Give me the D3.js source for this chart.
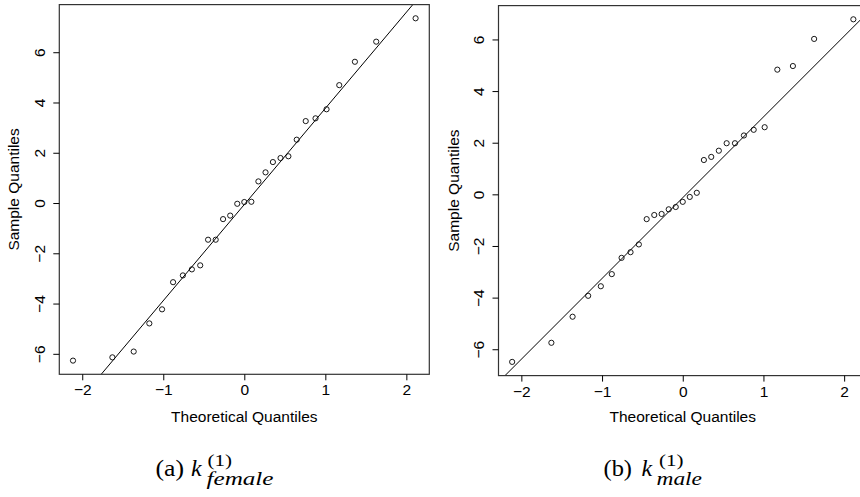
<!DOCTYPE html>
<html>
<head>
<meta charset="utf-8">
<script src="https://cdn.jsdelivr.net/npm/d3@7/dist/d3.min.js"></script>
<style>
  html, body { margin: 0; padding: 0; background: #fff; }
  svg { display: block; }
  .sans { font-family: "Liberation Sans", Arial, sans-serif; }
  .serif { font-family: "Liberation Serif", "Times New Roman", serif; }
</style>
</head>
<body>
<svg id="chart" width="860" height="497"></svg>
<script>
// Theoretical normal quantiles (x positions)
const theoretical = [-2.114, -1.628, -1.365, -1.172, -1.015, -0.879, -0.758, -0.647, -0.544, -0.447,
  -0.353, -0.262, -0.174, -0.087, 0, 0.087, 0.174, 0.262, 0.353, 0.447,
  0.544, 0.647, 0.758, 0.879, 1.015, 1.172, 1.365, 1.628, 2.114];
// Sample quantiles, panel (a) female
const femaleSample = [-6.27, -6.14, -5.91, -4.79, -4.23, -3.15, -2.88, -2.64, -2.48, -1.46,
  -1.46, -0.64, -0.50, -0.03, 0.04, 0.05, 0.86, 1.22, 1.63, 1.79,
  1.86, 2.52, 3.26, 3.37, 3.73, 4.69, 5.62, 6.42, 7.35];
// Sample quantiles, panel (b) male
const maleSample = [-6.49, -5.75, -4.74, -3.93, -3.56, -3.09, -2.46, -2.24, -1.94, -0.96,
  -0.80, -0.76, -0.58, -0.49, -0.29, -0.10, 0.06, 1.33, 1.45, 1.69,
  1.98, 1.98, 2.28, 2.50, 2.60, 4.83, 4.97, 6.02, 6.78];
const xTicks = [-2, -1, 0, 1, 2];
const yTicks = [-6, -4, -2, 0, 2, 4, 6];
const xTitle = "Theoretical Quantiles";
const yTitle = "Sample Quantiles";
const captionLabels = ["(a)", "(b)"];
const captionSubs = ["female", "male"];

const svg = d3.select("#chart");

function extend(ext) { const r = (ext[1] - ext[0]) * 0.04; return [ext[0] - r, ext[1] + r]; }

const panels = [
  { sample: femaleSample, box: { x0: 59.3, x1: 429.3, y0: 4.6, y1: 374.3 },
    cap: { lx: 155.5, lw: 28.5, kx: 191, sx: 207.5, sw: 24.5, bx: 206.5, bw: 67 },
    label: captionLabels[0], sub: captionSubs[0] },
  { sample: maleSample,   box: { x0: 498.5, x1: 867, y0: 5.6, y1: 375.6 },
    cap: { lx: 603.5, lw: 28.5, kx: 641.5, sx: 659, sw: 24.5, bx: 656.5, bw: 45.5 },
    label: captionLabels[1], sub: captionSubs[1] }
];

const fmt = d => (d < 0 ? "\u2212" + Math.abs(d) : String(d));

panels.forEach((p, i) => {
  const b = p.box;
  const x = d3.scaleLinear().domain(extend(d3.extent(theoretical))).range([b.x0, b.x1]);
  const y = d3.scaleLinear().domain(extend(d3.extent(p.sample))).range([b.y1, b.y0]);
  const g = svg.append("g");

  const clipId = "clip" + i;
  svg.append("clipPath").attr("id", clipId).append("rect")
    .attr("x", b.x0).attr("y", b.y0).attr("width", b.x1 - b.x0).attr("height", b.y1 - b.y0);

  // qq line through quartiles
  const sorted = p.sample.slice().sort(d3.ascending);
  const q1 = d3.quantile(sorted, 0.25), q3 = d3.quantile(sorted, 0.75);
  const z1 = -0.6744898, z3 = 0.6744898;
  const slope = (q3 - q1) / (z3 - z1);
  const inter = q1 - slope * z1;
  const xd = x.domain();
  g.append("line")
    .attr("clip-path", "url(#" + clipId + ")")
    .attr("x1", x(xd[0])).attr("y1", y(inter + slope * xd[0]))
    .attr("x2", x(xd[1])).attr("y2", y(inter + slope * xd[1]))
    .attr("stroke", "#000").attr("stroke-width", 1);

  // points
  g.selectAll("circle").data(theoretical.map((t, k) => [t, p.sample[k]])).join("circle")
    .attr("cx", d => x(d[0])).attr("cy", d => y(d[1])).attr("r", 2.6)
    .attr("fill", "none").attr("stroke", "#000").attr("stroke-width", 0.9);

  // box
  g.append("rect").attr("x", b.x0).attr("y", b.y0)
    .attr("width", b.x1 - b.x0).attr("height", b.y1 - b.y0)
    .attr("fill", "none").attr("stroke", "#333").attr("stroke-width", 1.2);

  // x axis
  const xa = g.append("g").attr("transform", `translate(0,${b.y1})`)
    .call(d3.axisBottom(x).tickValues(xTicks).tickSize(6).tickPadding(4).tickFormat(fmt));
  xa.select(".domain").remove();
  xa.selectAll("line").attr("stroke", "#000");
  xa.selectAll("text").attr("class", "sans").attr("font-size", 15.5).attr("fill", "#000");

  // y axis
  const ya = g.append("g").attr("transform", `translate(${b.x0},0)`)
    .call(d3.axisLeft(y).tickValues(yTicks).tickSize(6).tickPadding(0).tickFormat(fmt));
  ya.select(".domain").remove();
  ya.selectAll("line").attr("stroke", "#000");
  ya.selectAll("text").attr("class", "sans").attr("font-size", 15.5).attr("fill", "#000")
    .attr("text-anchor", "middle")
    .attr("x", 0).attr("dy", null)
    .attr("transform", "translate(-20,0) rotate(-90)")
    .attr("y", 0)
    .attr("dominant-baseline", "central");

  // titles
  g.append("text").attr("class", "sans").attr("x", x(0)).attr("y", 422).attr("text-anchor", "middle")
    .attr("font-size", 15.5).text(xTitle);
  g.append("text").attr("class", "sans").attr("transform", `translate(${b.x0 - 40},${(b.y0 + b.y1) / 2}) rotate(-90)`)
    .attr("text-anchor", "middle").attr("font-size", 15.5).text(yTitle);

  // caption
  const c = p.cap;
  const cap = g.append("g");
  cap.append("text").attr("class", "serif").attr("x", c.lx).attr("y", 476).attr("font-size", 23)
    .attr("textLength", c.lw).attr("lengthAdjust", "spacingAndGlyphs").text(p.label);
  cap.append("text").attr("class", "serif").attr("x", c.kx).attr("y", 476).attr("font-size", 24)
    .attr("font-style", "italic").text("k");
  cap.append("text").attr("class", "serif").attr("x", c.sx).attr("y", 466).attr("font-size", 17)
    .attr("textLength", c.sw).attr("lengthAdjust", "spacingAndGlyphs").text("(1)");
  cap.append("text").attr("class", "serif").attr("x", c.bx).attr("y", 485).attr("font-size", 18)
    .attr("font-style", "italic")
    .attr("textLength", c.bw).attr("lengthAdjust", "spacingAndGlyphs").text(p.sub);
});
</script>
</body>
</html>
